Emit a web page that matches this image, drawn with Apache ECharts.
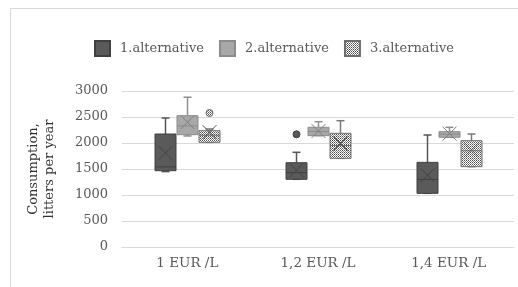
<!DOCTYPE html>
<html>
<head>
  <meta charset="UTF-8">
  <title>Consumption box plot</title>
  <script src="https://cdn.jsdelivr.net/npm/echarts@6/dist/echarts.min.js"></script>
  <style>
    html, body { margin: 0; padding: 0; background: #fff; }
    #chart { width: 518px; height: 287px; }
  </style>
</head>
<body>
  <div id="chart"></div>
  <script>
    // categories and series names
    var categories = ['1 EUR /L', '1,2 EUR /L', '1,4 EUR /L'];
    var seriesNames = ['1.alternative', '2.alternative', '3.alternative'];

    // [category, min, q1, median, q3, max, mean]
    var alt1Stats = [
      [0, 1450, 1467, 1540, 2173, 2480, 1808],
      [1, 1302, 1302, 1430, 1621, 1821, 1480],
      [2, 1032, 1032, 1300, 1628, 2154, 1380]
    ];
    var alt2Stats = [
      [0, 2135, 2160, 2330, 2525, 2880, 2400],
      [1, 2141, 2141, 2220, 2302, 2410, 2230],
      [2, 2110, 2110, 2170, 2218, 2302, 2180]
    ];
    var alt3Stats = [
      [0, 2013, 2013, 2150, 2237, 2270, 2210],
      [1, 1705, 1705, 1950, 2186, 2429, 1990],
      [2, 1545, 1545, 1850, 2045, 2173, 1870]
    ];
    // outliers: [category, value]
    var alt1Outliers = [[1, 2167]];
    var alt2Outliers = [];
    var alt3Outliers = [[0, 2577]];

    var yTicks = { min: 0, max: 3000, interval: 500 };

    // dotted fill for the 3rd alternative
    var cv = document.createElement('canvas');
    cv.width = 2; cv.height = 2;
    var cx2 = cv.getContext('2d');
    cx2.fillStyle = '#ffffff';
    cx2.fillRect(0, 0, 2, 2);
    cx2.fillStyle = '#4a4a4a';
    cx2.fillRect(0, 0, 1, 1);
    cx2.fillStyle = '#8a8a8a';
    cx2.fillRect(1, 1, 1, 1);
    var dotPattern = { image: cv, repeat: 'repeat' };

    var looks = [
      { fill: '#5a5a5a', stroke: '#404040', line: '#555555', mark: '#434343' },
      { fill: '#a8a8a8', stroke: '#8c8c8c', line: '#8f8f8f', mark: '#7f7f7f' },
      { fill: dotPattern, stroke: '#6e6e6e', line: '#7a7a7a', mark: '#555555' }
    ];

    function boxRenderer(k) {
      var lk = looks[k];
      return function (params, api) {
        var cat = api.value(0);
        var band = api.size([1, 0])[0];
        var w = Math.round(band * 0.16);
        var cx = Math.round(api.coord([cat, 0])[0] + (k - 1) * (w + 1)) + 0.5;
        var yMin = api.coord([cat, api.value(1)])[1];
        var yQ1 = api.coord([cat, api.value(2)])[1];
        var yMed = api.coord([cat, api.value(3)])[1];
        var yQ3 = api.coord([cat, api.value(4)])[1];
        var yMax = api.coord([cat, api.value(5)])[1];
        var yMean = api.coord([cat, api.value(6)])[1];
        var ln = { stroke: lk.line, lineWidth: 1.5 };
        var xs = 7;
        return {
          type: 'group',
          children: [
            { type: 'line', shape: { x1: cx, y1: yQ3, x2: cx, y2: yMax }, style: ln },
            { type: 'line', shape: { x1: cx - 4, y1: yMax, x2: cx + 4, y2: yMax }, style: ln },
            { type: 'line', shape: { x1: cx, y1: yQ1, x2: cx, y2: yMin }, style: ln },
            { type: 'line', shape: { x1: cx - 4, y1: yMin, x2: cx + 4, y2: yMin }, style: ln },
            {
              type: 'rect',
              shape: { x: cx - w / 2, y: yQ3, width: w, height: yQ1 - yQ3 },
              style: { fill: lk.fill, stroke: lk.stroke, lineWidth: 1 }
            },
            { type: 'line', shape: { x1: cx - w / 2, y1: yMed, x2: cx + w / 2, y2: yMed }, style: { stroke: lk.stroke, lineWidth: 1 } },
            { type: 'line', shape: { x1: cx - xs, y1: yMean - xs, x2: cx + xs, y2: yMean + xs }, style: { stroke: lk.mark, lineWidth: 1 } },
            { type: 'line', shape: { x1: cx - xs, y1: yMean + xs, x2: cx + xs, y2: yMean - xs }, style: { stroke: lk.mark, lineWidth: 1 } }
          ]
        };
      };
    }

    function outlierRenderer(k) {
      var lk = looks[k];
      return function (params, api) {
        var cat = api.value(0);
        var band = api.size([1, 0])[0];
        var w = Math.round(band * 0.16);
        var cx = Math.round(api.coord([cat, 0])[0] + (k - 1) * (w + 1)) + 0.5;
        var y = api.coord([cat, api.value(1)])[1];
        return {
          type: 'circle',
          shape: { cx: cx, cy: y, r: 3.5 },
          style: { fill: lk.fill, stroke: lk.stroke, lineWidth: 1 }
        };
      };
    }

    var statsList = [alt1Stats, alt2Stats, alt3Stats];
    var outlierList = [alt1Outliers, alt2Outliers, alt3Outliers];
    var series = [];
    for (var k = 0; k < 3; k++) {
      series.push({
        name: seriesNames[k],
        type: 'custom',
        renderItem: boxRenderer(k),
        itemStyle: { color: looks[k].fill, borderColor: looks[k].stroke, borderWidth: 1 },
        encode: { x: 0, y: [1, 2, 3, 4, 5] },
        data: statsList[k],
        z: 3
      });
      series.push({
        name: seriesNames[k],
        type: 'custom',
        renderItem: outlierRenderer(k),
        itemStyle: { color: looks[k].fill, borderColor: looks[k].stroke, borderWidth: 1 },
        encode: { x: 0, y: 1 },
        data: outlierList[k],
        z: 3
      });
    }

    var serif = '"DejaVu Serif", "Liberation Serif", serif';
    var chart = echarts.init(document.getElementById('chart'), null, { renderer: 'canvas' });
    chart.setOption({
      animation: false,
      backgroundColor: '#fff',
      textStyle: { fontFamily: serif },
      graphic: [{
        type: 'rect',
        shape: { x: 10.5, y: 8.5, width: 530, height: 300 },
        style: { fill: 'none', stroke: '#d9d9d9', lineWidth: 1 },
        silent: true
      }],
      legend: {
        top: 35,
        left: 89,
        itemWidth: 15,
        itemHeight: 15,
        itemGap: 15,
        icon: 'rect',
        data: seriesNames,
        textStyle: { fontFamily: serif, fontSize: 13, color: '#595959', padding: [0, 0, 0, 5] }
      },
      grid: { left: 122, right: 4, top: 91, bottom: 40, containLabel: false },
      xAxis: {
        type: 'category',
        data: categories,
        axisLine: { show: true, lineStyle: { color: '#d9d9d9', width: 1 } },
        axisTick: { show: false },
        axisLabel: { fontFamily: serif, fontSize: 13.5, color: '#595959', margin: 9 },
        splitLine: { show: false }
      },
      yAxis: {
        type: 'value',
        min: yTicks.min,
        max: yTicks.max,
        interval: yTicks.interval,
        name: 'Consumption,\nlitters per year',
        nameLocation: 'middle',
        nameRotate: 90,
        nameGap: 64,
        nameTextStyle: { fontFamily: serif, fontSize: 13, color: '#333333', lineHeight: 16 },
        axisLine: { show: false },
        axisTick: { show: false },
        axisLabel: {
          fontFamily: serif, fontSize: 13, color: '#595959', margin: 14,
          formatter: function (v) { return String(v); }
        },
        splitLine: { lineStyle: { color: '#d9d9d9', width: 1 } }
      },
      series: series
    });
  </script>
</body>
</html>
